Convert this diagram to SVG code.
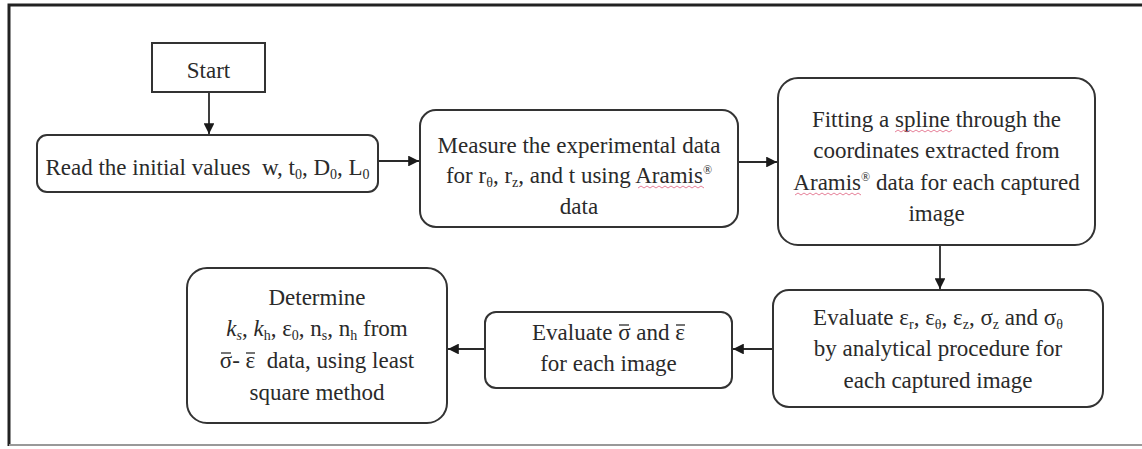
<svg xmlns="http://www.w3.org/2000/svg" width="1142" height="449" viewBox="0 0 1142 449">
<style>
  text { font-family: "Liberation Serif", "Times New Roman", serif; font-size: 23px; fill: #2a2a2a; text-anchor: middle; }
  .box { fill: #ffffff; stroke: #333333; stroke-width: 2; }
  .conn { stroke: #2a2a2a; stroke-width: 1.8; fill: none; marker-end: url(#arrow); }
  .sub { font-size: 14px; }
  .sup { font-size: 12px; }
  .bar { stroke: #2a2a2a; stroke-width: 1.3; }
  .wavy { stroke: #e0607f; stroke-width: 1; fill: none; opacity: 0.8; }
</style>
<defs>
  <marker id="arrow" viewBox="0 0 10 10" refX="10" refY="5" markerWidth="6" markerHeight="6" markerUnits="strokeWidth" orient="auto">
    <path d="M0,0 L10,5 L0,10 Z" fill="#1a1a1a"/>
  </marker>
</defs>
<rect x="0" y="0" width="1142" height="449" fill="#ffffff"/>
<g id="frame">
  <path d="M1142,5 L9,5 L9,446" fill="none" stroke="#222" stroke-width="3"/>
  <path d="M9,445 L1142,445" fill="none" stroke="#999" stroke-width="2"/>
</g>
<g id="connectors">
  <line class="conn" x1="209" y1="92" x2="209" y2="134"/>
  <line class="conn" x1="378" y1="161" x2="419" y2="161"/>
  <line class="conn" x1="738" y1="162" x2="777" y2="162"/>
  <line class="conn" x1="940" y1="245" x2="940" y2="289"/>
  <line class="conn" x1="773" y1="349" x2="733" y2="349"/>
  <line class="conn" x1="485" y1="349" x2="448" y2="349"/>
</g>
<g id="start">
  <rect class="box" x="152" y="43" width="113" height="49"/>
  <text x="208.5" y="78">Start</text>
</g>
<g id="read">
  <rect class="box" x="37" y="135" width="341" height="57" rx="10"/>
  <text x="207.5" y="175" xml:space="preserve">Read the initial values  w, t<tspan class="sub" dy="4">0</tspan><tspan dy="-4">, D</tspan><tspan class="sub" dy="4">0</tspan><tspan dy="-4">, L</tspan><tspan class="sub" dy="4">0</tspan></text>
</g>
<g id="measure">
  <rect class="box" x="420" y="110" width="318" height="117" rx="16"/>
  <text x="579" y="153">Measure the experimental data</text>
  <text x="579" y="183">for r<tspan class="sub" dy="4">θ</tspan><tspan dy="-4">, r</tspan><tspan class="sub" dy="4">z</tspan><tspan dy="-4">, and t using Aramis</tspan><tspan class="sup" dy="-9">®</tspan></text>
  <text x="579" y="214">data</text>
  <path class="wavy" d="M638,188 l3,-2 l3,2 l3,-2 l3,2 l3,-2 l3,2 l3,-2 l3,2 l3,-2 l3,2 l3,-2 l3,2 l3,-2 l3,2 l3,-2 l3,2 l3,-2 l3,2 l3,-2 l3,2 l3,-2 l3,2"/>
</g>
<g id="fitting">
  <rect class="box" x="778" y="78" width="317" height="167" rx="20"/>
  <text x="936.5" y="127">Fitting a spline through the</text>
  <text x="936.5" y="158">coordinates extracted from</text>
  <text x="936.5" y="190">Aramis<tspan class="sup" dy="-9">®</tspan><tspan dy="9"> data for each captured</tspan></text>
  <text x="936.5" y="221">image</text>
  <path class="wavy" d="M895,132 l3,-2 l3,2 l3,-2 l3,2 l3,-2 l3,2 l3,-2 l3,2 l3,-2 l3,2 l3,-2 l3,2 l3,-2 l3,2 l3,-2 l3,2 l3,-2 l3,2 l3,-2"/>
  <path class="wavy" d="M795,195 l3,-2 l3,2 l3,-2 l3,2 l3,-2 l3,2 l3,-2 l3,2 l3,-2 l3,2 l3,-2 l3,2 l3,-2 l3,2 l3,-2 l3,2 l3,-2 l3,2 l3,-2 l3,2 l3,-2 l3,2"/>
</g>
<g id="evaluate-strains">
  <rect class="box" x="773" y="290" width="330" height="117" rx="16"/>
  <text x="938" y="325">Evaluate ε<tspan class="sub" dy="4">r</tspan><tspan dy="-4">, ε</tspan><tspan class="sub" dy="4">θ</tspan><tspan dy="-4">, ε</tspan><tspan class="sub" dy="4">z</tspan><tspan dy="-4">, σ</tspan><tspan class="sub" dy="4">z</tspan><tspan dy="-4"> and σ</tspan><tspan class="sub" dy="4">θ</tspan></text>
  <text x="938" y="356">by analytical procedure for</text>
  <text x="938" y="388">each captured image</text>
</g>
<g id="evaluate-effective">
  <rect class="box" x="485" y="312" width="247" height="76" rx="11"/>
  <text x="608.5" y="340">Evaluate σ and ε</text>
  <line class="bar" x1="619" y1="325" x2="629" y2="325"/>
  <line class="bar" x1="676" y1="325" x2="685" y2="325"/>
  <text x="608.5" y="371">for each image</text>
</g>
<g id="determine">
  <rect class="box" x="187" y="268" width="260" height="155" rx="20"/>
  <text x="317" y="305">Determine</text>
  <text x="317" y="336"><tspan font-style="italic">k</tspan><tspan class="sub" dy="4" font-style="italic">s</tspan><tspan dy="-4">, </tspan><tspan font-style="italic">k</tspan><tspan class="sub" dy="4">h</tspan><tspan dy="-4">, ε</tspan><tspan class="sub" dy="4">0</tspan><tspan dy="-4">, n</tspan><tspan class="sub" dy="4">s</tspan><tspan dy="-4">, n</tspan><tspan class="sub" dy="4">h</tspan><tspan dy="-4"> from</tspan></text>
  <text x="317" y="368" xml:space="preserve">σ- ε  data, using least</text>
  <line class="bar" x1="221" y1="353" x2="231" y2="353"/>
  <line class="bar" x1="246" y1="353" x2="255" y2="353"/>
  <text x="317" y="400">square method</text>
</g>
</svg>
